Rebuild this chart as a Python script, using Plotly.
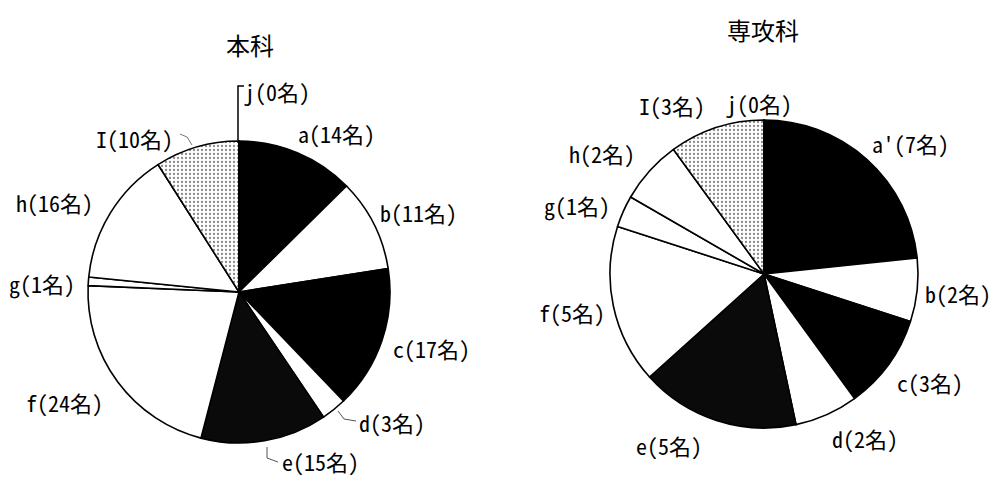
import plotly.graph_objects as go

W, H = 998, 477

# Categories and counts for the two programmes
cats_main = ["a", "b", "c", "d", "e", "f", "g", "h", "I", "j"]
vals_main = [14, 11, 17, 3, 15, 24, 1, 16, 10, 0]

cats_adv = ["a'", "b", "c", "d", "e", "f", "g", "h", "I", "j"]
vals_adv = [7, 2, 3, 2, 5, 5, 1, 2, 3, 0]

titles = ["本科", "専攻科"]

# Slice fills (same order as categories)
fills = ["#000000", "#ffffff", "#000000", "#ffffff", "#0a0a0a",
         "#ffffff", "#ffffff", "#ffffff", "#d2d2d2", "#ffffff"]

LABEL_FONT = "Noto Sans Mono CJK JP, Noto Sans CJK JP"
TITLE_FONT = "Noto Sans CJK JP"


def px(x):
    return x / W


def py(y):
    return 1 - y / H


def domain(cx, cy, r):
    return dict(x=[px(cx - r), px(cx + r)], y=[py(cy + r), py(cy - r)])


fig = go.Figure()
pie_geo = [(239, 292, 151), (764, 274, 154)]
for (cats, vals), (cx, cy, r) in zip([(cats_main, vals_main), (cats_adv, vals_adv)], pie_geo):
    fig.add_trace(go.Pie(
        labels=cats, values=vals, sort=False, direction="clockwise", rotation=0,
        textinfo="none", hoverinfo="label+value",
        marker=dict(colors=fills, line=dict(color="#000000", width=1.6),
                    pattern=dict(shape=["", "", "", "", "", "", "", "", ".", ""],
                                 fgcolor="#8a8a8a", size=4, solidity=0.25)),
        domain=domain(cx, cy, r), showlegend=False,
    ))


def label(cat, v):
    return f"{cat}({v}名)"


# Left edge x, vertical centre y of each label, in pixels
pos_main = [(296, 133), (378, 212), (391, 348), (357, 422), (280, 461),
            (24, 402), (7, 283), (14, 202), (94, 138), (242, 91)]
pos_adv = [(870, 143), (923, 293), (895, 382), (830, 438), (634, 445),
           (537, 312), (542, 205), (567, 153), (637, 105), (724, 103)]

annotations = []
for cats, vals, pos in [(cats_main, vals_main, pos_main), (cats_adv, vals_adv, pos_adv)]:
    for c, v, (x, y) in zip(cats, vals, pos):
        annotations.append(dict(
            text=label(c, v), x=px(x), y=py(y), xref="paper", yref="paper",
            xanchor="left", yanchor="middle", showarrow=False,
            font=dict(family=LABEL_FONT, size=22, color="#000000"),
        ))

for t, (x, y) in zip(titles, [(250, 45), (763, 30)]):
    annotations.append(dict(
        text=t, x=px(x), y=py(y), xref="paper", yref="paper",
        xanchor="center", yanchor="middle", showarrow=False,
        font=dict(family=TITLE_FONT, size=24, color="#000000"),
    ))


def path(points):
    return "M " + " L ".join(f"{px(x)} {py(y)}" for x, y in points)


leaders = [
    ([(238, 143), (238, 86), (244, 86)], "#000000", 1.5),
    ([(180, 134), (187, 137), (192, 145)], "#777777", 1),
    ([(338, 411), (344, 419), (356, 421)], "#555555", 1),
    ([(267, 447), (267, 458), (278, 462)], "#555555", 1),
]
shapes = [dict(type="path", path=path(p), xref="paper", yref="paper",
               line=dict(color=c, width=w)) for p, c, w in leaders]

fig.update_layout(
    width=W, height=H, margin=dict(l=0, r=0, t=0, b=0),
    paper_bgcolor="#ffffff", plot_bgcolor="#ffffff",
    annotations=annotations, shapes=shapes,
)

fig.write_html("out.html")
